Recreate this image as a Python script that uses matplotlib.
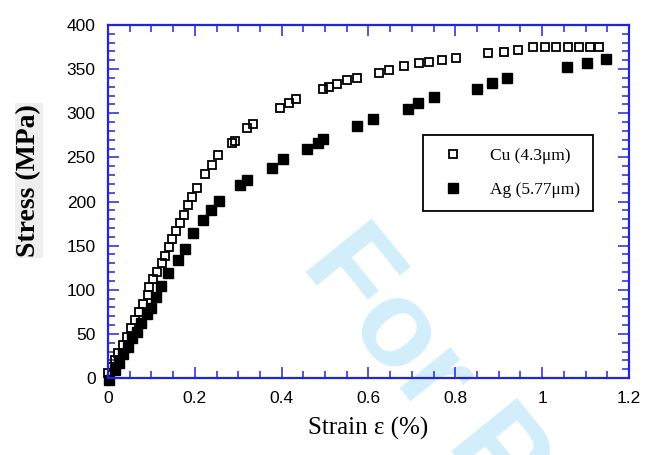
import matplotlib.pyplot as plt
from matplotlib.ticker import MultipleLocator

# Cu (4.3um) - strain (%) and stress (MPa)
cu_strain = [0.001, 0.0085, 0.016, 0.024, 0.034, 0.043, 0.053, 0.062, 0.071, 0.081,
             0.091, 0.094, 0.104, 0.114, 0.124, 0.131, 0.141, 0.148, 0.157, 0.166,
             0.175, 0.185, 0.194, 0.204, 0.224, 0.239, 0.254, 0.285, 0.293, 0.321,
             0.333, 0.396, 0.418, 0.433, 0.495, 0.510, 0.527, 0.550, 0.573, 0.624,
             0.647, 0.682, 0.717, 0.740, 0.770, 0.802, 0.876, 0.911, 0.945, 0.980,
             1.007, 1.032, 1.060, 1.084, 1.110, 1.130]
cu_stress = [6.0, 12.8, 20.4, 28.0, 37.4, 46.8, 56.3, 65.7, 74.8, 83.9,
             94.1, 102.8, 111.8, 120.1, 130.0, 138.2, 148.1, 157.2, 166.6, 176.0,
             184.7, 196.0, 205.4, 215.0, 231.2, 241.4, 252.7, 266.0, 268.6, 283.0,
             287.8, 305.6, 312.0, 316.1, 327.1, 330.1, 333.1, 337.7, 340.3, 345.6,
             349.6, 353.9, 356.6, 358.4, 360.3, 362.6, 367.9, 369.7, 371.7, 374.7,
             374.7, 374.7, 374.7, 374.7, 374.7, 374.7]

# Ag (5.77um)
ag_strain = [0.002, 0.016, 0.025, 0.035, 0.047, 0.056, 0.066, 0.075, 0.089, 0.098,
             0.110, 0.122, 0.139, 0.162, 0.177, 0.196, 0.219, 0.237, 0.256, 0.304,
             0.320, 0.377, 0.404, 0.459, 0.484, 0.495, 0.574, 0.610, 0.690, 0.713,
             0.750, 0.850, 0.884, 0.919, 1.057, 1.103, 1.147]
ag_stress = [-2.3, 9.1, 16.7, 27.2, 35.5, 45.3, 52.1, 61.8, 72.0, 79.7,
             92.1, 104.2, 119.0, 133.7, 146.0, 164.6, 179.0, 190.4, 200.6, 218.7,
             224.7, 237.6, 247.8, 259.7, 266.3, 270.5, 286.1, 293.3, 304.8, 312.0,
             318.4, 327.8, 334.3, 340.5, 352.4, 356.9, 361.2]

blue = '#2424dc'
sans = 'Liberation Sans'
serif = 'Liberation Serif'

fig = plt.figure(figsize=(6.53, 4.55), dpi=100)
ax = fig.add_axes([0.1654, 0.1692, 0.7978, 0.7758])
ax.patch.set_alpha(0)

# watermark behind the axes
fig.text(300 / 653, 1 - 265 / 455, 'For Peer Review', fontsize=88, fontweight='bold',
         family=sans, color='#d2eefb', rotation=-51, rotation_mode='anchor',
         ha='left', va='baseline', zorder=-5)

ax.plot(cu_strain, cu_stress, linestyle='none', marker='s', ms=5.5,
        mfc='none', mec='black', mew=1.3, label='Cu (4.3\u03bcm)', clip_on=False)
ax.plot(ag_strain, ag_stress, linestyle='none', marker='s', ms=7,
        mfc='black', mec='black', label='Ag (5.77\u03bcm)', clip_on=False)

ax.set_xlim(0, 1.2)
ax.set_ylim(0, 400)
ax.xaxis.set_major_locator(MultipleLocator(0.2))
ax.xaxis.set_minor_locator(MultipleLocator(0.05))
ax.yaxis.set_major_locator(MultipleLocator(50))
ax.yaxis.set_minor_locator(MultipleLocator(10))
ax.set_xticks([0, 0.2, 0.4, 0.6, 0.8, 1.0, 1.2])
ax.set_xticklabels(['0', '0.2', '0.4', '0.6', '0.8', '1', '1.2'])

for s in ax.spines.values():
    s.set_color(blue)
    s.set_linewidth(1.6)
ax.tick_params(which='both', direction='in', top=True, right=True, color=blue,
               labelcolor='black', labelsize=12.5, pad=9)
ax.tick_params(which='major', length=8, width=1.1)
ax.tick_params(which='minor', length=5, width=1.1)
for lab in ax.get_xticklabels() + ax.get_yticklabels():
    lab.set_family(sans)

ax.set_xlabel('Strain \u03b5 (%)', family=serif, fontsize=18, labelpad=8)
ax.set_ylabel('Stress (MPa)', family=serif, fontsize=20, fontweight='bold',
              bbox=dict(facecolor='#eeeeee', edgecolor='none', pad=1))
ax.yaxis.set_label_coords(-0.128, 0.56)

leg = ax.legend(loc='upper left', bbox_to_anchor=(0.6046, 0.688, 0.327, 0.0), mode='expand',
                fancybox=False, edgecolor='black', framealpha=1, borderpad=0.75,
                labelspacing=1.0, handletextpad=1.1, borderaxespad=0,
                prop={'family': serif, 'size': 12.5})
leg.get_frame().set_linewidth(1.3)

plt.savefig('out.png', dpi=100)
